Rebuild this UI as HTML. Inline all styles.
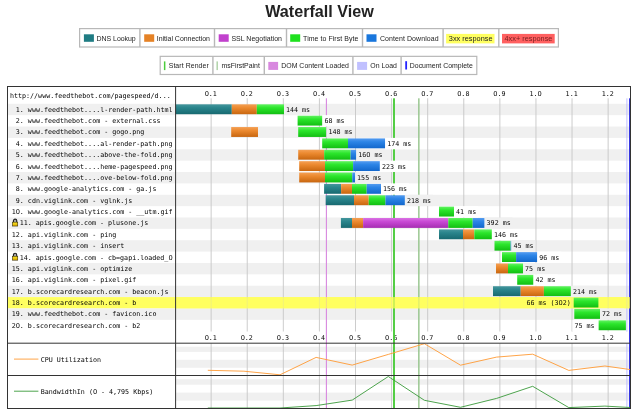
<!DOCTYPE html>
<html lang="en"><head><meta charset="utf-8"><title>Waterfall View</title>
<style>html,body{margin:0;padding:0;background:#fff}svg{display:block;will-change:transform}.m{font-family:"DejaVu Sans Mono","Liberation Mono",monospace;font-size:6.68px;fill:#000}.z{font-family:"DejaVu Sans","Liberation Sans",sans-serif}.s{font-family:"Liberation Sans",Arial,sans-serif;font-size:6.97px;fill:#222}.s2{font-size:6.92px}.s3{font-size:7.33px}.h{font-family:"Liberation Sans",Arial,sans-serif;font-size:16.15px;font-weight:bold;fill:#222}</style></head><body>
<svg width="644" height="419" viewBox="0 0 644 419">
<defs>
<linearGradient id="gd" x1="0" y1="0" x2="0" y2="1"><stop offset="0" stop-color="#45969d"/><stop offset="0.35" stop-color="#2a858c"/><stop offset="1" stop-color="#176970"/></linearGradient>
<linearGradient id="gc" x1="0" y1="0" x2="0" y2="1"><stop offset="0" stop-color="#f4a055"/><stop offset="0.35" stop-color="#ec8a30"/><stop offset="1" stop-color="#c8660f"/></linearGradient>
<linearGradient id="gs" x1="0" y1="0" x2="0" y2="1"><stop offset="0" stop-color="#da72e4"/><stop offset="0.35" stop-color="#c94ad5"/><stop offset="1" stop-color="#a62db2"/></linearGradient>
<linearGradient id="gt" x1="0" y1="0" x2="0" y2="1"><stop offset="0" stop-color="#62f262"/><stop offset="0.35" stop-color="#2ce62c"/><stop offset="1" stop-color="#12be12"/></linearGradient>
<linearGradient id="gb" x1="0" y1="0" x2="0" y2="1"><stop offset="0" stop-color="#559cf0"/><stop offset="0.35" stop-color="#2c84e6"/><stop offset="1" stop-color="#1267cc"/></linearGradient>
<linearGradient id="gl" x1="0" y1="0" x2="0" y2="1"><stop offset="0" stop-color="#ffe820"/><stop offset="1" stop-color="#d8a800"/></linearGradient>
</defs>
<rect width="644" height="419" fill="#fff"/>
<text class="h" x="319.5" y="17.1" text-anchor="middle">Waterfall View</text>
<rect x="79.6" y="28.6" width="478.8" height="18.4" fill="#fff" stroke="#b8b8b8" stroke-width="1.2"/>
<line x1="139.9" y1="28.6" x2="139.9" y2="47" stroke="#b8b8b8" stroke-width="1.4"/>
<line x1="214.5" y1="28.6" x2="214.5" y2="47" stroke="#b8b8b8" stroke-width="1.4"/>
<line x1="286.5" y1="28.6" x2="286.5" y2="47" stroke="#b8b8b8" stroke-width="1.4"/>
<line x1="362.5" y1="28.6" x2="362.5" y2="47" stroke="#b8b8b8" stroke-width="1.4"/>
<line x1="443.1" y1="28.6" x2="443.1" y2="47" stroke="#b8b8b8" stroke-width="1.4"/>
<line x1="498.8" y1="28.6" x2="498.8" y2="47" stroke="#b8b8b8" stroke-width="1.4"/>
<rect x="83.9" y="34.3" width="10" height="7.5" fill="#1f7c83"/>
<text class="s" x="96.6" y="40.6" textLength="39.1" lengthAdjust="spacing">DNS Lookup</text>
<rect x="144.2" y="34.3" width="10" height="7.5" fill="#e58226"/>
<text class="s" x="156.8" y="40.6" textLength="53.2" lengthAdjust="spacing">Initial Connection</text>
<rect x="218.7" y="34.3" width="10" height="7.5" fill="#c141cd"/>
<text class="s" x="231.4" y="40.6" textLength="50.6" lengthAdjust="spacing">SSL Negotiation</text>
<rect x="290.2" y="34.3" width="10" height="7.5" fill="#1fe11f"/>
<text class="s" x="303.1" y="40.6" textLength="55.2" lengthAdjust="spacing">Time to First Byte</text>
<rect x="366.5" y="34.3" width="10" height="7.5" fill="#1977dd"/>
<text class="s" x="379.9" y="40.6" textLength="58.7" lengthAdjust="spacing">Content Download</text>
<rect x="446.1" y="33.9" width="48.4" height="9.5" fill="#ffff60"/>
<text class="s s3" x="448.8" y="40.6" textLength="43.7" lengthAdjust="spacing">3xx response</text>
<rect x="502" y="33.9" width="52.7" height="9.5" fill="#ff6060"/>
<text class="s s3" x="504.5" y="40.6" style="fill:#7a2020" textLength="47.9" lengthAdjust="spacing">4xx+ response</text>
<rect x="160.2" y="56.35" width="316.6" height="18.15" fill="#fff" stroke="#b8b8b8" stroke-width="1.2"/>
<line x1="212.9" y1="56.35" x2="212.9" y2="74.5" stroke="#b8b8b8" stroke-width="1.4"/>
<line x1="264.3" y1="56.35" x2="264.3" y2="74.5" stroke="#b8b8b8" stroke-width="1.4"/>
<line x1="352.9" y1="56.35" x2="352.9" y2="74.5" stroke="#b8b8b8" stroke-width="1.4"/>
<line x1="401.1" y1="56.35" x2="401.1" y2="74.5" stroke="#b8b8b8" stroke-width="1.4"/>
<rect x="163.9" y="61.4" width="1.5" height="8.7" fill="#4ccc3c"/>
<text class="s s2" x="168.7" y="68.3" textLength="40" lengthAdjust="spacing">Start Render</text>
<rect x="216.6" y="61.4" width="1.1" height="8.7" fill="#94c48a"/>
<text class="s s2" x="221.6" y="68.3" textLength="38.2" lengthAdjust="spacing">msFirstPaint</text>
<rect x="268.3" y="61.9" width="9.8" height="8" fill="#d888df"/>
<text class="s s2" x="281.2" y="68.3" textLength="67.7" lengthAdjust="spacing">DOM Content Loaded</text>
<rect x="357.1" y="61.9" width="10" height="8" fill="#c0c0ff"/>
<text class="s s2" x="370.3" y="68.3" textLength="26.6" lengthAdjust="spacing">On Load</text>
<rect x="405.25" y="61.2" width="1.8" height="8.3" fill="#2424ff"/>
<text class="s s2" x="409.8" y="68.3" textLength="63" lengthAdjust="spacing">Document Complete</text>
<rect x="7.5" y="86.5" width="623" height="322" fill="#fff"/>
<rect x="7.5" y="103.8" width="623" height="11.37" fill="#f0f0f0"/>
<rect x="7.5" y="126.54" width="623" height="11.37" fill="#f0f0f0"/>
<rect x="7.5" y="149.28" width="623" height="11.37" fill="#f0f0f0"/>
<rect x="7.5" y="172.02" width="623" height="11.37" fill="#f0f0f0"/>
<rect x="7.5" y="194.76" width="623" height="11.37" fill="#f0f0f0"/>
<rect x="7.5" y="217.5" width="623" height="11.37" fill="#f0f0f0"/>
<rect x="7.5" y="240.24" width="623" height="11.37" fill="#f0f0f0"/>
<rect x="7.5" y="262.98" width="623" height="11.37" fill="#f0f0f0"/>
<rect x="7.5" y="285.72" width="623" height="11.37" fill="#f0f0f0"/>
<rect x="7.5" y="297.09" width="623" height="11.37" fill="#ffff60"/>
<rect x="7.5" y="308.46" width="623" height="11.37" fill="#f0f0f0"/>
<rect x="175.6" y="346.7" width="454.9" height="5.2" fill="#f0f0f0"/>
<rect x="175.6" y="359.8" width="454.9" height="8" fill="#f0f0f0"/>
<rect x="175.6" y="379.2" width="454.9" height="5.5" fill="#f0f0f0"/>
<rect x="175.6" y="392.6" width="454.9" height="8" fill="#f0f0f0"/>
<line x1="211.14" y1="98.3" x2="211.14" y2="331.5" stroke="#c6c6c6" stroke-width="0.9"/>
<line x1="211.14" y1="343.2" x2="211.14" y2="408.5" stroke="#c6c6c6" stroke-width="0.9"/>
<text class="m" y="95.9"><tspan class="z" x="204.64">0</tspan><tspan x="208.73">.1</tspan></text>
<text class="m" y="339.9"><tspan class="z" x="204.64">0</tspan><tspan x="208.73">.1</tspan></text>
<line x1="247.23" y1="98.3" x2="247.23" y2="331.5" stroke="#c6c6c6" stroke-width="0.9"/>
<line x1="247.23" y1="343.2" x2="247.23" y2="408.5" stroke="#c6c6c6" stroke-width="0.9"/>
<text class="m" y="95.9"><tspan class="z" x="240.73">0</tspan><tspan x="244.82">.2</tspan></text>
<text class="m" y="339.9"><tspan class="z" x="240.73">0</tspan><tspan x="244.82">.2</tspan></text>
<line x1="283.32" y1="98.3" x2="283.32" y2="331.5" stroke="#c6c6c6" stroke-width="0.9"/>
<line x1="283.32" y1="343.2" x2="283.32" y2="408.5" stroke="#c6c6c6" stroke-width="0.9"/>
<text class="m" y="95.9"><tspan class="z" x="276.82">0</tspan><tspan x="280.91">.3</tspan></text>
<text class="m" y="339.9"><tspan class="z" x="276.82">0</tspan><tspan x="280.91">.3</tspan></text>
<line x1="319.41" y1="98.3" x2="319.41" y2="331.5" stroke="#c6c6c6" stroke-width="0.9"/>
<line x1="319.41" y1="343.2" x2="319.41" y2="408.5" stroke="#c6c6c6" stroke-width="0.9"/>
<text class="m" y="95.9"><tspan class="z" x="312.91">0</tspan><tspan x="317">.4</tspan></text>
<text class="m" y="339.9"><tspan class="z" x="312.91">0</tspan><tspan x="317">.4</tspan></text>
<line x1="355.5" y1="98.3" x2="355.5" y2="331.5" stroke="#c6c6c6" stroke-width="0.9"/>
<line x1="355.5" y1="343.2" x2="355.5" y2="408.5" stroke="#c6c6c6" stroke-width="0.9"/>
<text class="m" y="95.9"><tspan class="z" x="349">0</tspan><tspan x="353.09">.5</tspan></text>
<text class="m" y="339.9"><tspan class="z" x="349">0</tspan><tspan x="353.09">.5</tspan></text>
<line x1="391.59" y1="98.3" x2="391.59" y2="331.5" stroke="#c6c6c6" stroke-width="0.9"/>
<line x1="391.59" y1="343.2" x2="391.59" y2="408.5" stroke="#c6c6c6" stroke-width="0.9"/>
<text class="m" y="95.9"><tspan class="z" x="385.09">0</tspan><tspan x="389.18">.6</tspan></text>
<text class="m" y="339.9"><tspan class="z" x="385.09">0</tspan><tspan x="389.18">.6</tspan></text>
<line x1="427.68" y1="98.3" x2="427.68" y2="331.5" stroke="#c6c6c6" stroke-width="0.9"/>
<line x1="427.68" y1="343.2" x2="427.68" y2="408.5" stroke="#c6c6c6" stroke-width="0.9"/>
<text class="m" y="95.9"><tspan class="z" x="421.18">0</tspan><tspan x="425.27">.7</tspan></text>
<text class="m" y="339.9"><tspan class="z" x="421.18">0</tspan><tspan x="425.27">.7</tspan></text>
<line x1="463.77" y1="98.3" x2="463.77" y2="331.5" stroke="#c6c6c6" stroke-width="0.9"/>
<line x1="463.77" y1="343.2" x2="463.77" y2="408.5" stroke="#c6c6c6" stroke-width="0.9"/>
<text class="m" y="95.9"><tspan class="z" x="457.27">0</tspan><tspan x="461.36">.8</tspan></text>
<text class="m" y="339.9"><tspan class="z" x="457.27">0</tspan><tspan x="461.36">.8</tspan></text>
<line x1="499.86" y1="98.3" x2="499.86" y2="331.5" stroke="#c6c6c6" stroke-width="0.9"/>
<line x1="499.86" y1="343.2" x2="499.86" y2="408.5" stroke="#c6c6c6" stroke-width="0.9"/>
<text class="m" y="95.9"><tspan class="z" x="493.36">0</tspan><tspan x="497.45">.9</tspan></text>
<text class="m" y="339.9"><tspan class="z" x="493.36">0</tspan><tspan x="497.45">.9</tspan></text>
<line x1="535.95" y1="98.3" x2="535.95" y2="331.5" stroke="#c6c6c6" stroke-width="0.9"/>
<line x1="535.95" y1="343.2" x2="535.95" y2="408.5" stroke="#c6c6c6" stroke-width="0.9"/>
<text class="m" y="95.9"><tspan x="529.52">1.</tspan><tspan class="z" x="537.49">0</tspan></text>
<text class="m" y="339.9"><tspan x="529.52">1.</tspan><tspan class="z" x="537.49">0</tspan></text>
<line x1="572.04" y1="98.3" x2="572.04" y2="331.5" stroke="#c6c6c6" stroke-width="0.9"/>
<line x1="572.04" y1="343.2" x2="572.04" y2="408.5" stroke="#c6c6c6" stroke-width="0.9"/>
<text class="m" y="95.9"><tspan x="565.61">1.1</tspan></text>
<text class="m" y="339.9"><tspan x="565.61">1.1</tspan></text>
<line x1="608.13" y1="98.3" x2="608.13" y2="331.5" stroke="#c6c6c6" stroke-width="0.9"/>
<line x1="608.13" y1="343.2" x2="608.13" y2="408.5" stroke="#c6c6c6" stroke-width="0.9"/>
<text class="m" y="95.9"><tspan x="601.7">1.2</tspan></text>
<text class="m" y="339.9"><tspan x="601.7">1.2</tspan></text>
<rect x="325.85" y="98.3" width="1.1" height="310.2" fill="#d888df"/>
<rect x="393.05" y="98.3" width="1.9" height="310.2" fill="#4ccc3c"/>
<rect x="418.15" y="98.3" width="1.4" height="310.2" fill="#94c48a"/>
<rect x="626.45" y="98.3" width="0.9" height="233.3" fill="#b8b8ff"/>
<rect x="626.45" y="343.2" width="0.9" height="65.3" fill="#b8b8ff"/>
<rect x="629.07" y="98.3" width="0.95" height="310.2" fill="#2828e0"/>
<rect x="175.6" y="297.09" width="454.9" height="11.37" fill="#ffff60" opacity="0.72"/>
<rect x="175.6" y="104.3" width="56.2" height="9.9" fill="url(#gd)"/>
<rect x="231.8" y="104.3" width="25" height="9.9" fill="url(#gc)"/>
<rect x="256.8" y="104.3" width="27.2" height="9.9" fill="url(#gt)"/>
<rect x="297.6" y="115.67" width="24.8" height="9.9" fill="url(#gt)"/>
<rect x="231.2" y="127.04" width="26.8" height="9.9" fill="url(#gc)"/>
<rect x="298.2" y="127.04" width="28.2" height="9.9" fill="url(#gt)"/>
<rect x="322.2" y="138.41" width="25.8" height="9.9" fill="url(#gt)"/>
<rect x="348" y="138.41" width="37.2" height="9.9" fill="url(#gb)"/>
<rect x="298.2" y="149.78" width="26" height="9.9" fill="url(#gc)"/>
<rect x="324.2" y="149.78" width="26.4" height="9.9" fill="url(#gt)"/>
<rect x="350.6" y="149.78" width="5.7" height="9.9" fill="url(#gb)"/>
<rect x="299.2" y="161.15" width="25.8" height="9.9" fill="url(#gc)"/>
<rect x="325" y="161.15" width="28.1" height="9.9" fill="url(#gt)"/>
<rect x="353.1" y="161.15" width="26.8" height="9.9" fill="url(#gb)"/>
<rect x="299.2" y="172.52" width="25.8" height="9.9" fill="url(#gc)"/>
<rect x="325" y="172.52" width="27.3" height="9.9" fill="url(#gt)"/>
<rect x="352.3" y="172.52" width="2.8" height="9.9" fill="url(#gb)"/>
<rect x="324.1" y="183.89" width="17" height="9.9" fill="url(#gd)"/>
<rect x="341.1" y="183.89" width="10.9" height="9.9" fill="url(#gc)"/>
<rect x="352" y="183.89" width="14.7" height="9.9" fill="url(#gt)"/>
<rect x="366.7" y="183.89" width="14.3" height="9.9" fill="url(#gb)"/>
<rect x="325.7" y="195.26" width="28.3" height="9.9" fill="url(#gd)"/>
<rect x="354" y="195.26" width="14.7" height="9.9" fill="url(#gc)"/>
<rect x="368.7" y="195.26" width="16.8" height="9.9" fill="url(#gt)"/>
<rect x="385.5" y="195.26" width="19.4" height="9.9" fill="url(#gb)"/>
<rect x="439" y="206.63" width="15.1" height="9.9" fill="url(#gt)"/>
<rect x="340.9" y="218" width="11.1" height="9.9" fill="url(#gd)"/>
<rect x="352" y="218" width="11.1" height="9.9" fill="url(#gc)"/>
<rect x="363.1" y="218" width="85.2" height="9.9" fill="url(#gs)"/>
<rect x="448.3" y="218" width="24.4" height="9.9" fill="url(#gt)"/>
<rect x="472.7" y="218" width="11.9" height="9.9" fill="url(#gb)"/>
<rect x="439" y="229.37" width="24" height="9.9" fill="url(#gd)"/>
<rect x="463" y="229.37" width="11.3" height="9.9" fill="url(#gc)"/>
<rect x="474.3" y="229.37" width="17.6" height="9.9" fill="url(#gt)"/>
<rect x="494.5" y="240.74" width="16.1" height="9.9" fill="url(#gt)"/>
<rect x="510.6" y="240.74" width="0.8" height="9.9" fill="url(#gb)"/>
<rect x="502" y="252.11" width="14.1" height="9.9" fill="url(#gt)"/>
<rect x="516.1" y="252.11" width="21.2" height="9.9" fill="url(#gb)"/>
<rect x="496" y="263.48" width="12" height="9.9" fill="url(#gc)"/>
<rect x="508" y="263.48" width="15.1" height="9.9" fill="url(#gt)"/>
<rect x="517.2" y="274.85" width="16.3" height="9.9" fill="url(#gt)"/>
<rect x="493" y="286.22" width="27.7" height="9.9" fill="url(#gd)"/>
<rect x="520.7" y="286.22" width="23.2" height="9.9" fill="url(#gc)"/>
<rect x="543.9" y="286.22" width="27" height="9.9" fill="url(#gt)"/>
<rect x="573.7" y="297.59" width="24.7" height="9.9" fill="url(#gt)"/>
<rect x="574.3" y="308.96" width="25.7" height="9.9" fill="url(#gt)"/>
<rect x="598.4" y="320.33" width="27.5" height="9.9" fill="url(#gt)"/>
<rect x="284" y="103.8" width="28.13" height="11.37" fill="#f0f0f0"/>
<text class="m" y="111.7"><tspan x="286">144 ms</tspan></text>
<rect x="322.4" y="115.17" width="24.11" height="11.37" fill="#fff"/>
<text class="m" y="123.07"><tspan x="324.4">68 ms</tspan></text>
<rect x="326.4" y="126.54" width="28.13" height="11.37" fill="#f0f0f0"/>
<text class="m" y="134.44"><tspan x="328.4">148 ms</tspan></text>
<rect x="385.2" y="137.91" width="28.13" height="11.37" fill="#fff"/>
<text class="m" y="145.81"><tspan x="387.2">174 ms</tspan></text>
<rect x="356.3" y="149.28" width="28.13" height="11.37" fill="#f0f0f0"/>
<text class="m" y="157.18"><tspan x="358.3">16</tspan><tspan class="z" x="366.27">0</tspan><tspan x="374.39">ms</tspan></text>
<rect x="379.9" y="160.65" width="28.13" height="11.37" fill="#fff"/>
<text class="m" y="168.55"><tspan x="381.9">223 ms</tspan></text>
<rect x="355.1" y="172.02" width="28.13" height="11.37" fill="#f0f0f0"/>
<text class="m" y="179.92"><tspan x="357.1">155 ms</tspan></text>
<rect x="381" y="183.39" width="28.13" height="11.37" fill="#fff"/>
<text class="m" y="191.29"><tspan x="383">156 ms</tspan></text>
<rect x="404.9" y="194.76" width="28.13" height="11.37" fill="#f0f0f0"/>
<text class="m" y="202.66"><tspan x="406.9">218 ms</tspan></text>
<rect x="454.1" y="206.13" width="24.11" height="11.37" fill="#fff"/>
<text class="m" y="214.03"><tspan x="456.1">41 ms</tspan></text>
<rect x="484.6" y="217.5" width="28.13" height="11.37" fill="#f0f0f0"/>
<text class="m" y="225.4"><tspan x="486.6">392 ms</tspan></text>
<rect x="491.9" y="228.87" width="28.13" height="11.37" fill="#fff"/>
<text class="m" y="236.77"><tspan x="493.9">146 ms</tspan></text>
<rect x="511.4" y="240.24" width="24.11" height="11.37" fill="#f0f0f0"/>
<text class="m" y="248.14"><tspan x="513.4">45 ms</tspan></text>
<rect x="537.3" y="251.61" width="24.11" height="11.37" fill="#fff"/>
<text class="m" y="259.51"><tspan x="539.3">96 ms</tspan></text>
<rect x="523.1" y="262.98" width="24.11" height="11.37" fill="#f0f0f0"/>
<text class="m" y="270.88"><tspan x="525.1">75 ms</tspan></text>
<rect x="533.5" y="274.35" width="24.11" height="11.37" fill="#fff"/>
<text class="m" y="282.25"><tspan x="535.5">42 ms</tspan></text>
<rect x="570.9" y="285.72" width="28.13" height="11.37" fill="#f0f0f0"/>
<text class="m" y="293.62"><tspan x="572.9">214 ms</tspan></text>
<text class="m" y="304.99"><tspan x="526.47">66 ms (3</tspan><tspan class="z" x="558.57">0</tspan><tspan x="562.66">2)</tspan></text>
<rect x="600" y="308.46" width="24.11" height="11.37" fill="#f0f0f0"/>
<text class="m" y="316.36"><tspan x="602">72 ms</tspan></text>
<rect x="572.49" y="319.83" width="25.91" height="11.37" fill="#fff"/>
<text class="m" y="327.73"><tspan x="574.49">75 ms</tspan></text>
<text class="m" y="98.3"><tspan x="10">http://www.feedthebot.com/pagespeed/d...</tspan></text>
<text class="m" y="111.7"><tspan x="15.82">1. www.feedthebot....l-render-path.html</tspan></text>
<text class="m" y="123.07"><tspan x="15.82">2. www.feedthebot.com - external.css</tspan></text>
<text class="m" y="134.44"><tspan x="15.82">3. www.feedthebot.com - gogo.png</tspan></text>
<text class="m" y="145.81"><tspan x="15.82">4. www.feedthebot....al-render-path.png</tspan></text>
<text class="m" y="157.18"><tspan x="15.82">5. www.feedthebot....above-the-fold.png</tspan></text>
<text class="m" y="168.55"><tspan x="15.82">6. www.feedthebot....heme-pagespeed.png</tspan></text>
<text class="m" y="179.92"><tspan x="15.82">7. www.feedthebot....ove-below-fold.png</tspan></text>
<text class="m" y="191.29"><tspan x="15.82">8. www.google-analytics.com - ga.js</tspan></text>
<text class="m" y="202.66"><tspan x="15.82">9. cdn.viglink.com - vglnk.js</tspan></text>
<text class="m" y="214.03"><tspan x="11.8">1</tspan><tspan class="z" x="15.75">0</tspan><tspan x="19.84">. www.google-analytics.com - __utm.gif</tspan></text>
<path d="M13.45 222.5 v-1.7 a1.65 1.65 0 0 1 3.3 0 v1.7" fill="#aaa" stroke="#222" stroke-width="1.15"/>
<rect x="12.45" y="222.15" width="5.3" height="3.9" fill="url(#gl)" stroke="#2a2200" stroke-width="0.55"/>
<text class="m" y="225.4"><tspan x="19.7">11. apis.google.com - plusone.js</tspan></text>
<text class="m" y="236.77"><tspan x="11.8">12. api.viglink.com - ping</tspan></text>
<text class="m" y="248.14"><tspan x="11.8">13. api.viglink.com - insert</tspan></text>
<path d="M13.45 256.61 v-1.7 a1.65 1.65 0 0 1 3.3 0 v1.7" fill="#aaa" stroke="#222" stroke-width="1.15"/>
<rect x="12.45" y="256.26" width="5.3" height="3.9" fill="url(#gl)" stroke="#2a2200" stroke-width="0.55"/>
<text class="m" y="259.51"><tspan x="19.7">14. apis.google.com - cb=gapi.loaded_</tspan><tspan class="z" x="168.42">0</tspan></text>
<text class="m" y="270.88"><tspan x="11.8">15. api.viglink.com - optimize</tspan></text>
<text class="m" y="282.25"><tspan x="11.8">16. api.viglink.com - pixel.gif</tspan></text>
<text class="m" y="293.62"><tspan x="11.8">17. b.scorecardresearch.com - beacon.js</tspan></text>
<text class="m" y="304.99"><tspan x="11.8">18. b.scorecardresearch.com - b</tspan></text>
<text class="m" y="316.36"><tspan x="11.8">19. www.feedthebot.com - favicon.ico</tspan></text>
<text class="m" y="327.73"><tspan x="11.8">2</tspan><tspan class="z" x="15.75">0</tspan><tspan x="19.84">. b.scorecardresearch.com - b2</tspan></text>
<line x1="14" y1="359.1" x2="38.4" y2="359.1" stroke="#ff9a33" stroke-width="0.9"/>
<text class="m" y="361.9"><tspan x="40.7">CPU Utilization</tspan></text>
<line x1="14" y1="391.2" x2="38.4" y2="391.2" stroke="#3a9a3a" stroke-width="0.9"/>
<text class="m" y="393.9"><tspan x="40.7">BandwidthIn (</tspan><tspan class="z" x="92.91">0</tspan><tspan x="101.02">- 4,795 Kbps)</tspan></text>
<polyline fill="none" stroke="#ff9a33" stroke-width="0.9" points="207.8,370.3 243.9,371.2 280,374.8 316.1,357.4 352.2,365.1 388.3,354.4 424.4,343.7 460.5,365.2 496.6,357.1 532.7,354.2 568.8,370.4 604.9,366 630,369.5"/>
<polyline fill="none" stroke="#3a9a3a" stroke-width="0.9" points="207.8,408 243.9,408 280,408 316.1,405.6 352.2,400.1 388.3,376.5 424.4,400.3 460.5,407.3 496.6,398.4 532.7,386.3 568.8,407.6 604.9,406.1 630,407.5"/>
<rect x="7.5" y="86.5" width="623" height="322" fill="none" stroke="#333" stroke-width="1"/>
<line x1="175.6" y1="86.5" x2="175.6" y2="408.5" stroke="#333" stroke-width="1"/>
<line x1="7.5" y1="343.2" x2="630.5" y2="343.2" stroke="#333" stroke-width="1"/>
<line x1="7.5" y1="375.5" x2="630.5" y2="375.5" stroke="#333" stroke-width="1"/>
</svg></body></html>
